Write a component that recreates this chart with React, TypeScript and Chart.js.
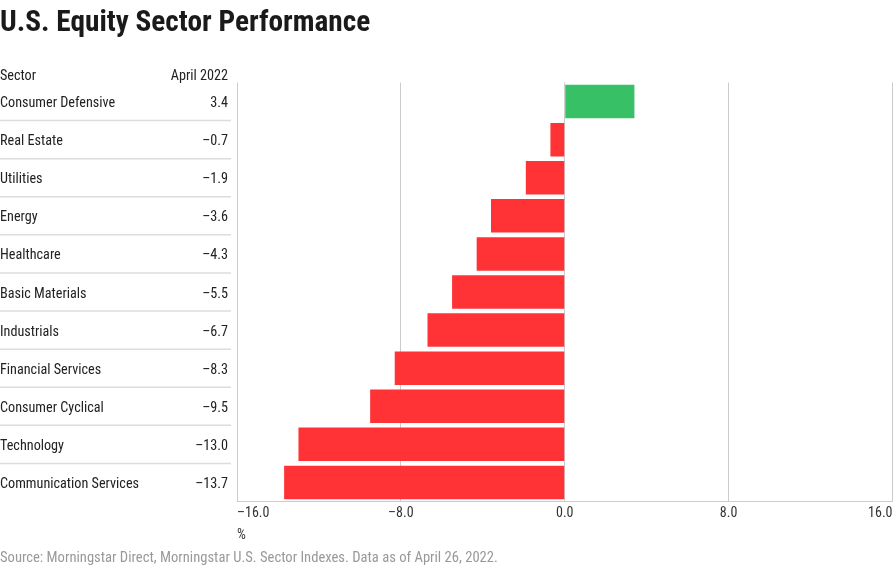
import React, { useEffect, useRef } from "react";
import { Chart, registerables } from "chart.js";

Chart.register(...registerables);

const TITLE = "U.S. Equity Sector Performance";
const SOURCE = "Source: Morningstar Direct, Morningstar U.S. Sector Indexes. Data as of April 26, 2022.";
const HEADER_SECTOR = "Sector";
const HEADER_VALUE = "April 2022";
const AXIS_UNIT = "%";

const sectors = [
  "Consumer Defensive",
  "Real Estate",
  "Utilities",
  "Energy",
  "Healthcare",
  "Basic Materials",
  "Industrials",
  "Financial Services",
  "Consumer Cyclical",
  "Technology",
  "Communication Services",
];
const returns = [3.4, -0.7, -1.9, -3.6, -4.3, -5.5, -6.7, -8.3, -9.5, -13.0, -13.7];
const axisMin = -16;
const axisMax = 16;
const axisStep = 8;

const FONT = '"Roboto Condensed", "Roboto", sans-serif';
const POS = "#37c066";
const NEG = "#ff3336";

const fmt = (v: number) => (v < 0 ? "\u2013" + Math.abs(v).toFixed(1) : v.toFixed(1));

const tablePlugin = {
  id: "sectorTable",
  afterDraw(chart: any) {
    const ctx = chart.ctx as CanvasRenderingContext2D;
    const y = chart.scales.y;
    const rows = sectors.map((_, i) => y.getPixelForValue(i));
    ctx.save();
    ctx.strokeStyle = "#dcdcdc";
    ctx.lineWidth = 1.5;
    for (let i = 0; i < rows.length - 1; i++) {
      const yy = (rows[i] + rows[i + 1]) / 2;
      ctx.beginPath();
      ctx.moveTo(0, yy);
      ctx.lineTo(231, yy);
      ctx.stroke();
    }
    ctx.font = `14.2px ${FONT}`;
    ctx.fillStyle = "#222";
    ctx.textBaseline = "alphabetic";
    const headerY = rows[0] - 21.5;
    ctx.textAlign = "left";
    ctx.fillText(HEADER_SECTOR, 0, headerY);
    ctx.textAlign = "right";
    ctx.fillText(HEADER_VALUE, 228, headerY);
    sectors.forEach((s, i) => {
      ctx.textAlign = "left";
      ctx.fillText(s, 0, rows[i] + 5.5);
      ctx.textAlign = "right";
      ctx.fillText(fmt(returns[i]), 228, rows[i] + 5.5);
    });
    ctx.restore();
  },
};

function SectorChart() {
  const ref = useRef<HTMLCanvasElement | null>(null);
  useEffect(() => {
    if (!ref.current) return;
    const chart = new Chart(ref.current, {
      type: "bar",
      data: {
        labels: sectors,
        datasets: [
          {
            data: returns,
            backgroundColor: returns.map((v) => (v >= 0 ? POS : NEG)),
            borderWidth: 0,
            barPercentage: 0.88,
            categoryPercentage: 1,
          },
        ],
      },
      options: {
        indexAxis: "y",
        responsive: false,
        animation: false,
        layout: { padding: { left: 237, right: -3.5, top: 82.5, bottom: 38.5 } },
        plugins: {
          legend: { display: false },
          tooltip: { enabled: false },
          title: { display: false },
        },
        scales: {
          y: { display: false },
          x: {
            z: 1,
            min: axisMin,
            max: axisMax,
            afterFit: (s: any) => {
              s.height = 42;
            },
            grid: {
              color: "rgba(0,0,0,0.2)",
              lineWidth: 1,
              drawTicks: false,
            },
            border: { display: true, color: "rgba(0,0,0,0.2)", width: 1 },
            ticks: {
              stepSize: axisStep,
              align: "inner",
              padding: 3.5,
              color: "#333",
              font: { family: FONT, size: 14 },
              callback: (v: any) => fmt(Number(v)),
            },
            title: {
              display: true,
              text: AXIS_UNIT,
              align: "start",
              color: "#333",
              font: { family: FONT, size: 14 },
              padding: { top: 0, bottom: 0 },
            },
          },
        },
      },
      plugins: [tablePlugin],
    } as any);
    return () => chart.destroy();
  }, []);
  return <canvas ref={ref} width={896} height={582} style={{ position: "absolute", left: 0, top: 0 }} />;
}

export default function App() {
  return (
    <div style={{ position: "absolute", left: 0, top: 0, width: 896, height: 582, background: "#fff", overflow: "hidden" }}>
      <SectorChart />
      <div
        style={{
          position: "absolute",
          left: 0,
          top: 7,
          fontFamily: FONT,
          fontWeight: 700,
          fontSize: 29.3,
          lineHeight: "29px",
          color: "#1a1a1a",
          whiteSpace: "nowrap",
        }}
      >
        {TITLE}
      </div>
      <div
        style={{
          position: "absolute",
          left: 0,
          top: 550,
          fontFamily: FONT,
          fontSize: 14.6,
          lineHeight: "15px",
          color: "#999",
          whiteSpace: "nowrap",
        }}
      >
        {SOURCE}
      </div>
    </div>
  );
}
